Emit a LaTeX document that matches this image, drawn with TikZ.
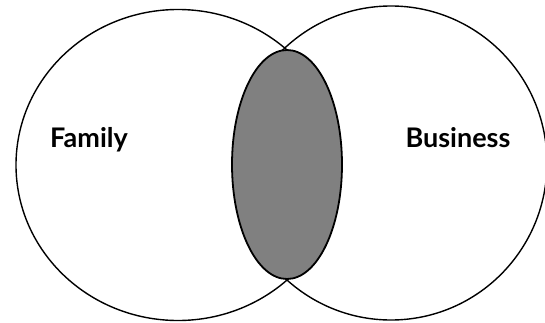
\documentclass[tikz,border=0pt]{standalone}
\usepackage{fontspec}
\setmainfont{Lato}
\begin{document}
\begin{tikzpicture}[x=1pt,y=1pt,
  ring/.style={draw=black,line width=1.4pt},
  lens/.style={draw=black,line width=1.8pt,fill=black!50},
  lbl/.style={font=\bfseries\fontsize{27}{32}\selectfont,anchor=base,inner sep=0pt}]
\useasboundingbox (0,0) rectangle (545,322);
\begin{scope}
\clip (0,0) rectangle (545,322);
\draw[ring] (178,157) ellipse [x radius=162,y radius=155.5];
\draw[ring] (391,159) ellipse [x radius=156,y radius=157];
\draw[lens] (287,157.5) ellipse [x radius=55,y radius=114.5];
\end{scope}
\node[lbl] (family) at (89,175) {Family};
\node[lbl] (business) at (458,175) {Business};
\end{tikzpicture}
\end{document}
